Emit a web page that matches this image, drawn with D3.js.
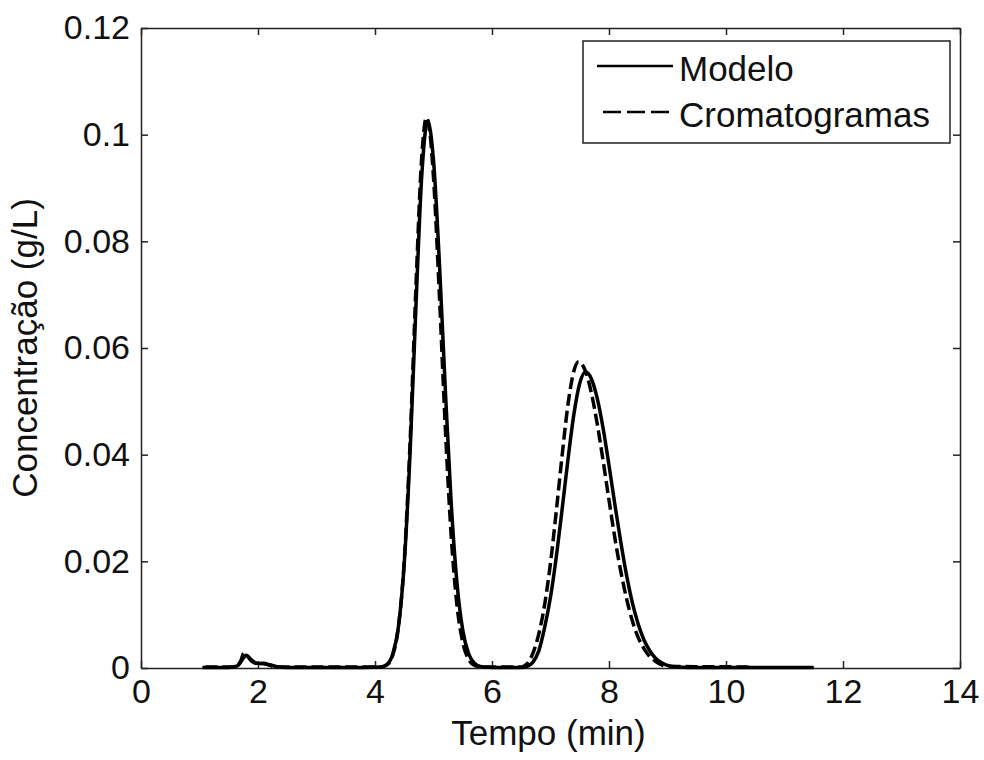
<!DOCTYPE html>
<html lang="pt">
<head>
<meta charset="utf-8">
<title>Concentração vs Tempo</title>
<script src="https://cdn.jsdelivr.net/npm/d3@7"></script>
<style>
  body { margin: 0; background: #fff; }
  svg text { font-family: "Liberation Sans", Arial, Helvetica, sans-serif; fill: #111; }
  .axis path, .axis line { stroke: #222; stroke-width: 1.5; }
  .line { fill: none; stroke: #000; stroke-width: 3.5; stroke-linejoin: round; }
</style>
</head>
<body>
<div id="viz"></div>
<script>
// Data
var modeloTime = [1.05, 1.5, 1.65, 1.72, 1.8, 1.88, 1.98, 2.1, 2.2, 2.35, 2.6, 3.5, 4.1,
  4.2, 4.3, 4.4, 4.5, 4.6, 4.7, 4.8, 4.9, 5.0, 5.1, 5.2, 5.3, 5.4, 5.5, 5.6, 5.7, 5.8, 6.0,
  6.5, 6.6, 6.7, 6.8, 6.9, 7.0, 7.1, 7.2, 7.3, 7.4, 7.5, 7.6, 7.7, 7.8, 7.9, 8.0,
  8.1, 8.2, 8.3, 8.4, 8.5, 8.6, 8.7, 8.8, 8.9, 9.0, 9.2, 9.5, 11.5];
var modeloConc = [0.0001, 0.0001, 0.0004, 0.0014, 0.0024, 0.0016, 0.0009, 0.0008, 0.0006, 0.0002, 0.0001, 0.0001, 0.0002,
  0.00065, 0.0025, 0.0077, 0.0196, 0.0404, 0.0678, 0.0924, 0.1025, 0.0952, 0.0762, 0.0527, 0.0314, 0.0161, 0.0071, 0.0027, 0.0009, 0.0003, 0.0001,
  0.0001, 0.0003, 0.0011, 0.0032, 0.0076, 0.0133, 0.0209, 0.0299, 0.0392, 0.0476, 0.0534, 0.0555, 0.0542, 0.0505, 0.0449, 0.0380,
  0.0307, 0.0237, 0.0174, 0.0122, 0.0082, 0.0052, 0.0032, 0.0018, 0.0010, 0.0005, 0.0002, 0.0001, 0.0001];

var cromTime = [1.1, 1.6, 1.7, 1.76, 1.82, 1.9, 2.0, 2.1, 2.2, 2.3, 4.1,
  4.2, 4.3, 4.4, 4.5, 4.6, 4.7, 4.8, 4.88, 4.95, 5.0, 5.1, 5.2, 5.3, 5.4, 5.5, 5.6, 5.7, 5.8,
  6.5, 6.6, 6.7, 6.8, 6.9, 7.0, 7.1, 7.2, 7.3, 7.4, 7.48, 7.6, 7.7, 7.8, 7.9, 8.0,
  8.1, 8.2, 8.3, 8.4, 8.5, 8.6, 8.7, 8.8, 8.9, 9.0, 10.4];
var cromConc = [0.0002, 0.0002, 0.0012, 0.0028, 0.0022, 0.0012, 0.0008, 0.0009, 0.0005, 0.0002, 0.0002,
  0.00055, 0.0023, 0.0076, 0.0201, 0.0424, 0.0715, 0.0960, 0.1032, 0.0992, 0.0920, 0.0701, 0.0455, 0.0252, 0.0119, 0.0048, 0.0016, 0.0005, 0.0002,
  0.0002, 0.0008, 0.0028, 0.0064, 0.0119, 0.0197, 0.0295, 0.0400, 0.0495, 0.0557, 0.0574, 0.0556, 0.0515, 0.0457, 0.0388, 0.0315,
  0.0244, 0.0182, 0.0130, 0.0088, 0.0057, 0.0036, 0.0021, 0.0012, 0.0006, 0.0003, 0.0002];

var xTicks = [0, 2, 4, 6, 8, 10, 12, 14];
var yTicks = [0, 0.02, 0.04, 0.06, 0.08, 0.1, 0.12];
var yTickLabels = ["0", "0.02", "0.04", "0.06", "0.08", "0.1", "0.12"];
var seriesNames = ["Modelo", "Cromatogramas"];

// Dimensions
var w = 984, h = 760;
var margin = {top: 28, right: 24, bottom: 92, left: 141};
var width = w - margin.left - margin.right,
    height = h - margin.top - margin.bottom;

var svg = d3.select("#viz").append("svg")
  .attr("width", w)
  .attr("height", h);

var g = svg.append("g")
  .attr("transform", "translate(" + margin.left + "," + margin.top + ")");

// Scales
var x = d3.scaleLinear().domain([0, 14]).range([0, width]);
var y = d3.scaleLinear().domain([0, 0.12]).range([height, 0]);

// Axes, ticks pointing inwards like MATLAB
g.append("g").attr("class", "axis")
  .attr("transform", "translate(0," + height + ")")
  .call(d3.axisBottom(x).tickValues(xTicks).tickSize(-7).tickPadding(11).tickSizeOuter(0))
  .selectAll("text").style("font-size", "34px");

g.append("g").attr("class", "axis")
  .call(d3.axisLeft(y).tickValues(yTicks).tickSize(-7).tickPadding(11).tickSizeOuter(0)
    .tickFormat(function(d, i) { return yTickLabels[i]; }))
  .selectAll("text").style("font-size", "34px");

g.append("g").attr("class", "axis")
  .call(d3.axisTop(x).tickValues(xTicks).tickSize(-7).tickSizeOuter(0).tickFormat(""));

g.append("g").attr("class", "axis")
  .attr("transform", "translate(" + width + ",0)")
  .call(d3.axisRight(y).tickValues(yTicks).tickSize(-7).tickSizeOuter(0).tickFormat(""));

// Lines
var line = d3.line()
  .x(function(d) { return x(d[0]); })
  .y(function(d) { return y(d[1]); })
  .curve(d3.curveMonotoneX);

var modelo = d3.zip(modeloTime, modeloConc);
var crom = d3.zip(cromTime, cromConc);

g.append("path").datum(modelo).attr("class", "line").attr("d", line);
g.append("path").datum(crom).attr("class", "line")
  .attr("stroke-dasharray", "12,5")
  .attr("d", line);

// Axis labels
g.append("text")
  .attr("x", width / 2 - 2)
  .attr("y", height + 77)
  .attr("text-anchor", "middle")
  .style("font-size", "35px")
  .text("Tempo (min)");

g.append("text")
  .attr("transform", "translate(-104," + (height / 2) + ") rotate(-90)")
  .attr("text-anchor", "middle")
  .style("font-size", "35px")
  .text("Concentração (g/L)");

// Legend
var legend = svg.append("g").attr("transform", "translate(583,41)");
legend.append("rect")
  .attr("width", 367).attr("height", 102)
  .attr("fill", "#fff").attr("stroke", "#222").attr("stroke-width", 1.5);

var items = legend.selectAll("g.item")
  .data(seriesNames)
  .enter().append("g")
  .attr("class", "item")
  .attr("transform", function(d, i) { return "translate(0," + (i * 46) + ")"; });

items.append("line")
  .attr("x1", function(d, i) { return i === 1 ? 20 : 14; }).attr("x2", 90)
  .attr("y1", 25).attr("y2", 25)
  .attr("stroke", "#000").attr("stroke-width", 2.5)
  .attr("stroke-dasharray", function(d, i) { return i === 1 ? "18,6" : null; });

items.append("text")
  .attr("x", 96)
  .attr("y", 40)
  .style("font-size", "35px")
  .text(function(d) { return d; });
</script>
</body>
</html>
